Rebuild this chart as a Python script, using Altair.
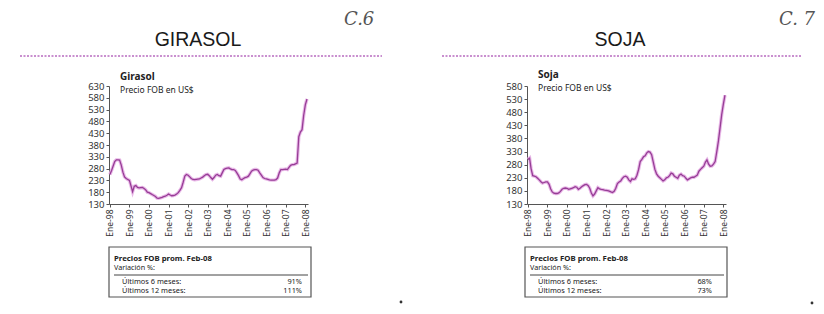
import altair as alt
import pandas as pd

# ---------------- data ----------------
girasol = [
    255, 272, 290, 310, 317, 317, 316, 295, 265, 245, 238, 234,   # 1998
    230, 205, 182, 205, 208, 200, 198, 199, 200, 196, 190, 180,   # 1999
    178, 174, 170, 166, 162, 155, 154, 156, 158, 161, 163, 167,   # 2000
    172, 168, 165, 166, 168, 172, 178, 188, 199, 222, 248, 255,   # 2001
    252, 245, 238, 234, 233, 234, 235, 236, 240, 244, 250, 255,   # 2002
    256, 250, 242, 235, 242, 252, 255, 250, 248, 262, 276, 280,   # 2003
    282, 283, 279, 276, 276, 272, 262, 250, 236, 233, 238, 242,   # 2004
    244, 248, 258, 269, 274, 276, 276, 273, 262, 252, 242, 238,   # 2005
    236, 234, 232, 231, 231, 231, 233, 240, 262, 276, 276, 277,   # 2006
    278, 276, 285, 294, 297, 297, 300, 303, 415, 435, 445, 505,   # 2007
    550, 575,                                                     # 2008
]
soja = [
    300, 305, 265, 238, 236, 234, 228, 222, 215, 210, 212, 214,   # 1998
    214, 205, 188, 176, 171, 170, 170, 172, 178, 186, 190, 191,   # 1999
    190, 186, 188, 190, 192, 196, 194, 186, 190, 196, 200, 204,   # 2000
    205, 200, 190, 172, 161, 168, 180, 192, 188, 186, 185, 183,   # 2001
    182, 181, 179, 176, 174, 178, 190, 208, 214, 218, 228, 234,   # 2002
    236, 232, 222, 216, 226, 224, 226, 240, 262, 292, 300, 310,   # 2003
    314, 325, 330, 328, 318, 290, 262, 245, 236, 230, 224, 218,   # 2004
    222, 230, 232, 238, 248, 245, 236, 232, 228, 240, 244, 238,   # 2005
    236, 228, 222, 226, 230, 232, 232, 236, 240, 255, 262, 268,   # 2006
    274, 290, 298, 282, 274, 275, 282, 292, 330, 370, 420, 470,   # 2007
    510, 545,                                                     # 2008
]
tick_years = list(range(1998, 2009))
girasol_yticks = [130, 180, 230, 280, 330, 380, 430, 480, 530, 580, 630]
soja_yticks = [130, 180, 230, 280, 330, 380, 430, 480, 530, 580]
var_labels = ["Últimos 6 meses:", "Últimos 12 meses:"]
girasol_var = ["91%", "111%"]
soja_var = ["68%", "73%"]

dates = pd.date_range("1998-01-01", periods=len(girasol), freq="MS")
df_g = pd.DataFrame({"fecha": dates, "precio": girasol})
df_s = pd.DataFrame({"fecha": dates, "precio": soja})
one = pd.DataFrame({"k": [0]})

W, H = 199, 118
P1 = (109, 86)   # absolute page position of panel 1 plot origin
P2 = (527, 86)
FONT = "Noto Sans"
PURPLE = "#973d96"
HALO = "#e6b0e4"


def txt(text, xa, ya, o, size, weight="normal", align="left", font=FONT,
        color="#222222", style="normal"):
    return alt.Chart(one).mark_text(
        text=text, align=align, baseline="middle", fontSize=size,
        fontWeight=weight, font=font, color=color, fontStyle=style
    ).encode(x=alt.value(xa - o[0]), y=alt.value(ya - o[1]))


def hrule(x1, x2, ya, o, color, width, dash=None):
    kw = dict(color=color, strokeWidth=width)
    if dash:
        kw["strokeDash"] = dash
    return alt.Chart(one).mark_rule(**kw).encode(
        x=alt.value(x1 - o[0]), x2=alt.value(x2 - o[0]), y=alt.value(ya - o[1]))


def box(x1, x2, y1, y2, o):
    return alt.Chart(one).mark_rect(
        fillOpacity=0, stroke="#555555", strokeWidth=1.2
    ).encode(x=alt.value(x1 - o[0]), x2=alt.value(x2 - o[0]),
             y=alt.value(y1 - o[1]), y2=alt.value(y2 - o[1]))


def dot(xa, ya, o):
    return alt.Chart(one).mark_point(
        filled=True, size=8, color="#333333", opacity=1
    ).encode(x=alt.value(xa - o[0]), y=alt.value(ya - o[1]))


def panel(df, ymax, yticks, name, big, mark, o, bx, vals, dot_xy):
    xs = alt.Scale(domain=[alt.DateTime(year=1997, month=12, date=15),
                           alt.DateTime(year=2008, month=2, date=20)])
    ys = alt.Scale(domain=[130, ymax], nice=False, zero=False)
    xax = alt.Axis(
        values=[alt.DateTime(year=y, month=1, date=1) for y in tick_years],
        format="Ene-%y", labelAngle=-90, labelFontSize=8.5, labelFont=FONT,
        labelColor="#333333", tickSize=3, labelPadding=2, grid=False,
        domainColor="#555555", tickColor="#555555", title="")
    yax = alt.Axis(values=yticks, labelFontSize=9.5, labelFont=FONT,
                   labelColor="#333333", tickSize=3, labelPadding=2,
                   grid=False, domainColor="#555555", tickColor="#555555",
                   title="")
    base = alt.Chart(df).encode(
        x=alt.X("fecha:T", scale=xs, axis=xax),
        y=alt.Y("precio:Q", scale=ys, axis=yax))
    halo = base.mark_line(color=HALO, strokeWidth=3.4, opacity=0.9)
    core = base.mark_line(color=PURPLE, strokeWidth=1.3)
    L = bx[0]
    layers = [
        halo, core,
        txt(name, o[0] + 11, 77 if o is P1 else 75, o, 10, weight="bold"),
        txt("Precio FOB en US$", o[0] + 11, 90 if o is P1 else 88, o, 8.5),
        txt(big, bx[4], 40, o, 19.5, align="center", font="Liberation Sans",
            color="#1a1a1a"),
        hrule(bx[5], bx[6], 56, o, "#c98fcf", 2, dash=[2, 1.5]),
        txt(mark, bx[7], 20, o, 18, font="DejaVu Serif", color="#555555",
            style="italic"),
        box(L, bx[1], 247, 297, o),
        txt("Precios FOB prom. Feb-08", L + 5, 258.5, o, 7.8, weight="bold"),
        txt("Variación %:", L + 5, 267.5, o, 7.2),
        hrule(L + 5, bx[1] - 3, 275, o, "#444444", 1),
        txt(var_labels[0], L + 13, 282, o, 7.4),
        txt(var_labels[1], L + 13, 290.5, o, 7.4),
        txt(vals[0], bx[2], 282, o, 7.4, align="right"),
        txt(vals[1], bx[2], 290.5, o, 7.4, align="right"),
        dot(dot_xy[0], dot_xy[1], o),
    ]
    return alt.layer(*layers).properties(width=W, height=H)


# invisible frame fixing the overall bounds to the 808x298 page area
frame = alt.Chart(one).mark_rect(opacity=0).encode(
    x=alt.value(8 - P1[0]), x2=alt.value(816 - P1[0]),
    y=alt.value(8 - P1[1]), y2=alt.value(306 - P1[1]))

p1 = panel(df_g, 630, girasol_yticks, "Girasol", "GIRASOL", "C.6", P1,
           (109, 311, 302, 0, 198, 20, 382, 344), girasol_var, (401, 302))
p1 = alt.layer(frame, p1).properties(width=W, height=H)
p2 = panel(df_s, 580, soja_yticks, "Soja", "SOJA", "C. 7", P2,
           (525, 727, 712, 0, 620, 442, 802, 779), soja_var, (812, 303))

chart = alt.hconcat(p1, p2, spacing=P2[0] - P1[0] - W, bounds="flush").properties(
    padding=0
).configure_view(strokeOpacity=0)

chart.save("out.html", embed_options={"renderer": "svg", "actions": False})
